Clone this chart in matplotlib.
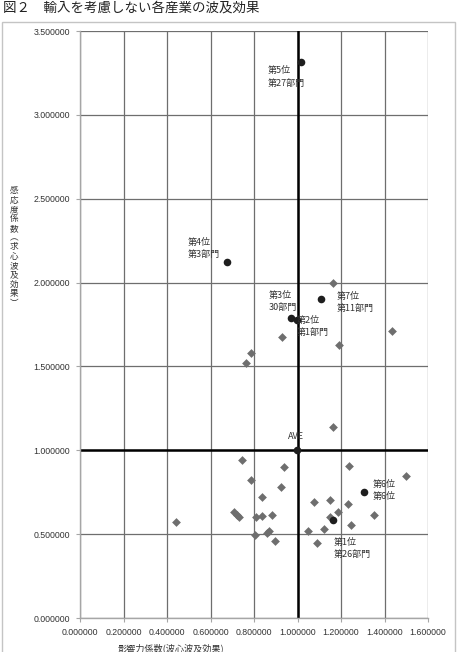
import matplotlib
matplotlib.use("Agg")
import matplotlib.pyplot as plt
from matplotlib.patches import Rectangle
from matplotlib.ticker import MultipleLocator, FormatStrFormatter

JP = ["Noto Sans CJK JP", "DejaVu Sans"]
NUM = ["Liberation Sans", "DejaVu Sans"]

TITLE = "図２　輸入を考慮しない各産業の波及効果"
X_LABEL = "影響力係数(波心波及効果)"
Y_LABEL = "感応度係数︵求心波及効果︶"

# other sectors (gray diamonds)
OTHER_X = [1.162, 1.433, 0.929, 1.189, 0.785, 0.762, 1.163, 0.743, 0.939, 1.237,
           1.499, 0.785, 0.923, 0.835, 1.076, 1.151, 1.232, 1.185, 0.708, 0.720,
           0.731, 0.809, 0.835, 0.881, 1.352, 1.149, 0.441, 1.244, 1.050, 1.122,
           0.858, 0.869, 0.805, 0.897, 1.091]
OTHER_Y = [1.996, 1.712, 1.675, 1.625, 1.581, 1.520, 1.136, 0.940, 0.902, 0.906,
           0.846, 0.820, 0.779, 0.719, 0.693, 0.703, 0.677, 0.634, 0.632, 0.614,
           0.604, 0.600, 0.606, 0.612, 0.616, 0.600, 0.570, 0.556, 0.520, 0.533,
           0.508, 0.518, 0.493, 0.461, 0.445]

# top-ranked sectors (black circles) and the average point
TOP_LABELS = ["第5位\n第27部門", "第4位\n第3部門", "第3位\n30部門", "第2位\n第1部門",
              "第7位\n第11部門", "第6位\n第6位", "第1位\n第26部門", "AVE"]
TOP_X = [1.016, 0.676, 0.970, 0.998, 1.108, 1.304, 1.165, 0.996]
TOP_Y = [3.313, 2.125, 1.790, 1.774, 1.901, 0.753, 0.586, 1.000]

# label placement: (dx, dy) in pixels from the point, ha, va
LABEL_POS = [(-33, -4, "left", "top"), (-39, 24, "left", "top"),
             (-22, 27, "left", "top"), (0, 5, "left", "top"),
             (16, 7, "left", "top"), (9, 12, "left", "top"),
             (0, -18, "left", "top"), (-1, 14, "center", "center")]

W, H = 458, 652
fig = plt.figure(figsize=(W / 100, H / 100), dpi=100)
fig.patch.set_facecolor("white")

# outer chart frame
fig.add_artist(Rectangle((2 / W, -0.01), 453 / W, 1 - 22 / H + 0.01,
                         transform=fig.transFigure, fill=False,
                         edgecolor="#c4c4c4", linewidth=1.0))

fig.text(3 / W, 1 - 8 / H, TITLE, family=JP, fontsize=9.7,
         ha="left", va="center", color="#222222")

ax = fig.add_axes([80 / W, 1 - 618 / H, 348 / W, 587 / H])
ax.set_xlim(0, 1.6)
ax.set_ylim(0, 3.5)
ax.xaxis.set_major_locator(MultipleLocator(0.2))
ax.yaxis.set_major_locator(MultipleLocator(0.5))
ax.xaxis.set_major_formatter(FormatStrFormatter("%.6f"))
ax.yaxis.set_major_formatter(FormatStrFormatter("%.6f"))
ax.grid(True, color="#6e6e6e", linewidth=0.9)
ax.set_axisbelow(True)
for side in ["top", "right"]:
    ax.spines[side].set_visible(False)
for side in ["left", "bottom"]:
    ax.spines[side].set_color("#a6a6a6")
    ax.spines[side].set_linewidth(1.0)
ax.tick_params(length=3, width=0.8, color="#a6a6a6", pad=4,
               labelsize=6.3, labelcolor="#333333")
for lab in ax.get_xticklabels() + ax.get_yticklabels():
    lab.set_family(NUM)

ax.axvline(1.0, color="black", linewidth=1.8, zorder=2)
ax.axhline(1.0, color="black", linewidth=1.8, zorder=2)

ax.scatter(OTHER_X, OTHER_Y, marker="D", s=20, color="#6e6e6e",
           linewidths=0, zorder=3)
ax.scatter(TOP_X, TOP_Y, marker="o", s=30, color="#1e1e1e",
           linewidths=0, zorder=4)

for lab, x, y, (dx, dy, ha, va) in zip(TOP_LABELS, TOP_X, TOP_Y, LABEL_POS):
    ax.annotate(lab, (x, y), xytext=(dx, dy), textcoords="offset pixels",
                ha=ha, va=va, family=JP, fontsize=6.5, linespacing=1.45,
                color="#333333", zorder=5)

fig.text(14 / W, 1 - 247 / H, "\n".join(Y_LABEL), family=JP, fontsize=6.2,
         ha="center", va="center", linespacing=1.05, color="#333333")
fig.text(171 / W, 1 - 643 / H, X_LABEL, family=JP, fontsize=6.6,
         ha="center", va="top", color="#333333")

fig.savefig("out.png", dpi=100)
